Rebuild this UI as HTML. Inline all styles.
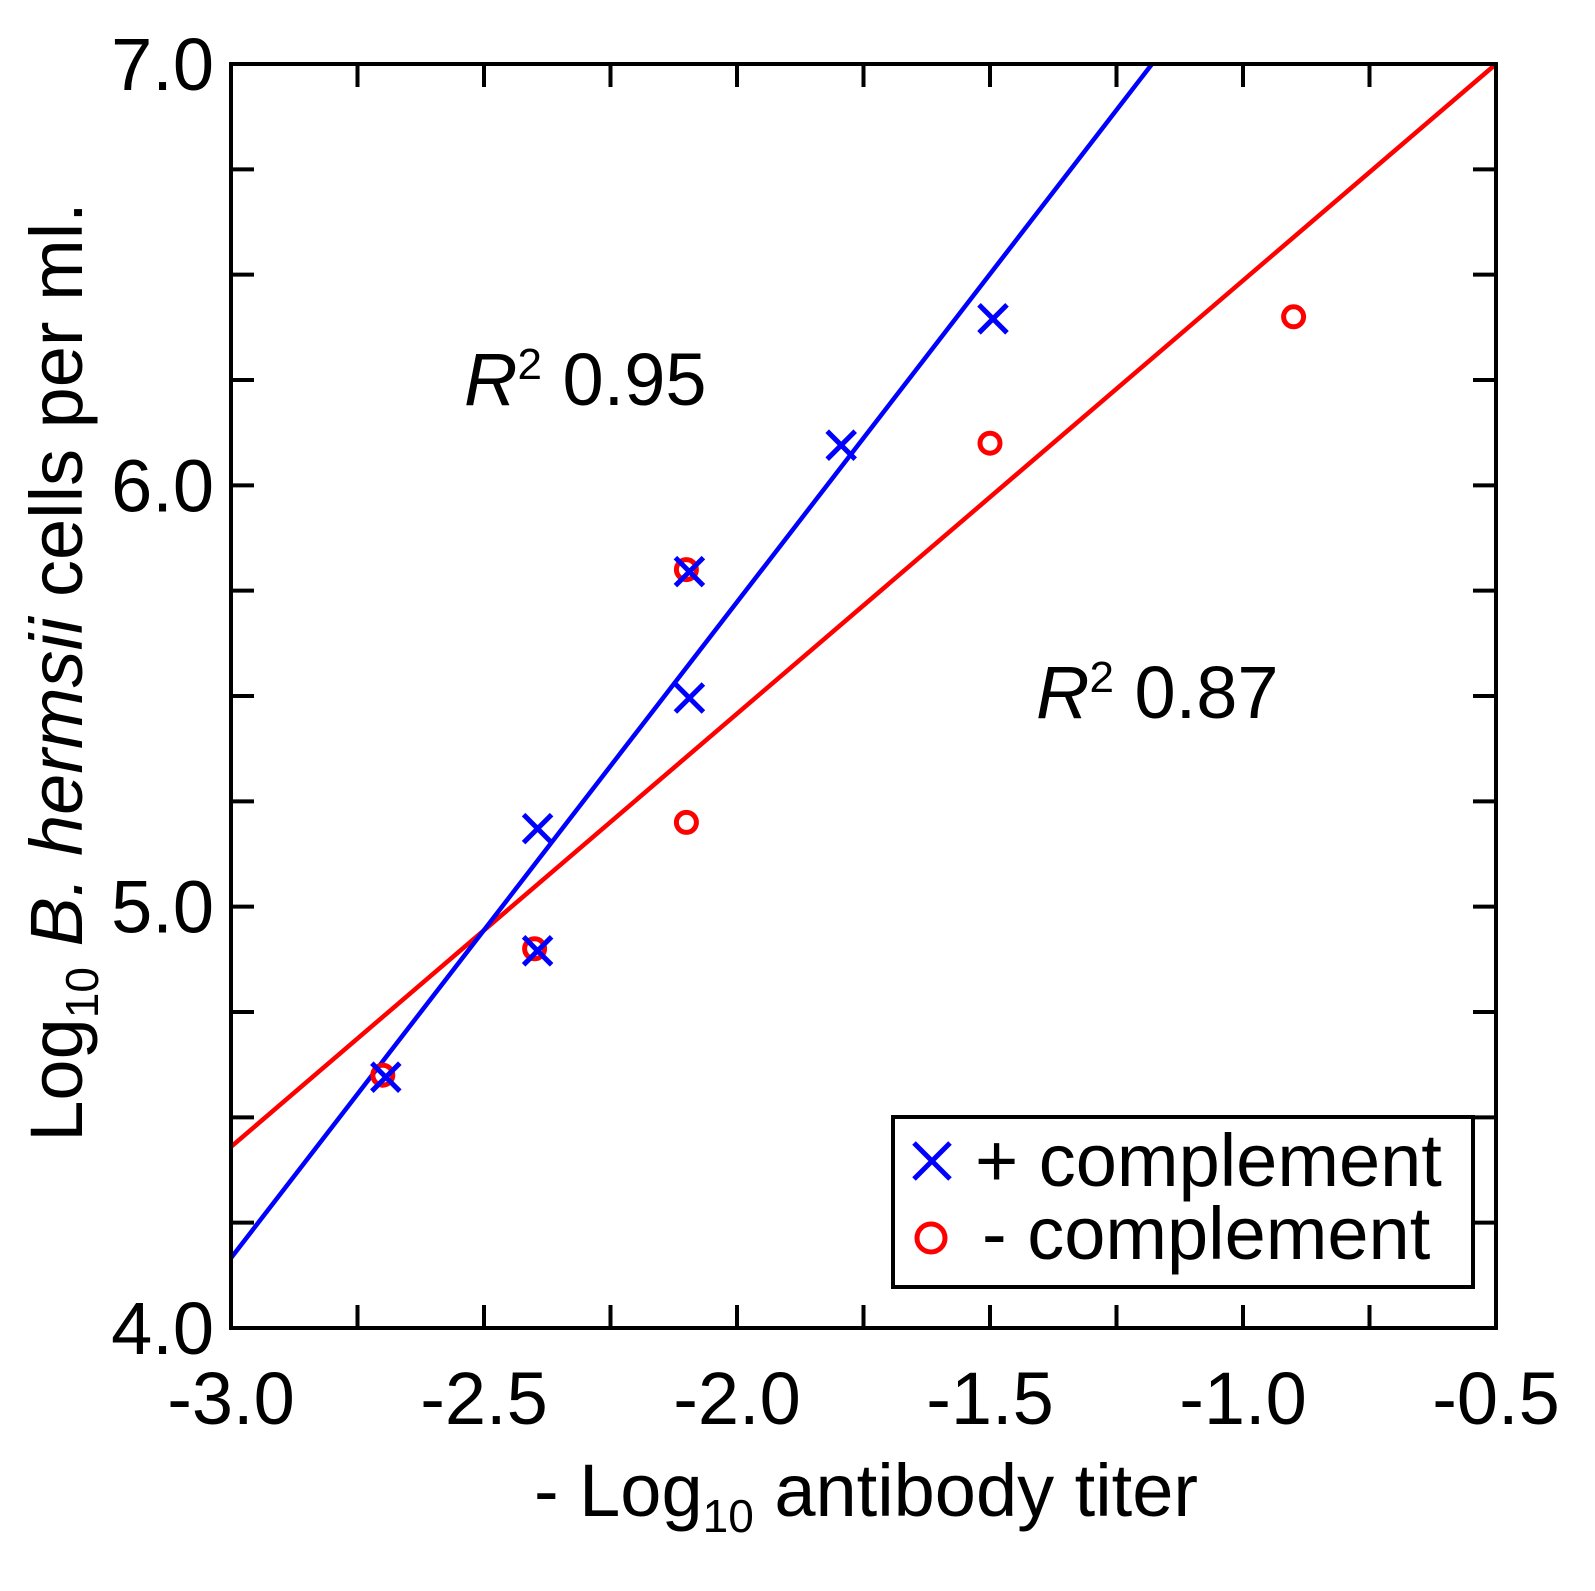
<!DOCTYPE html>
<html><head><meta charset="utf-8"><style>
html,body{margin:0;padding:0;background:#fff;}
svg text{font-family:"Liberation Sans",Arial,sans-serif;}
</style></head><body>
<svg id="chart" width="1595" height="1586" viewBox="0 0 1595 1586" xmlns="http://www.w3.org/2000/svg">
<g id="marks"></g>
<rect x="231" y="64" width="1265" height="1264" fill="none" stroke="#000" stroke-width="4"/>
<g id="ticks"></g>
<text x="866" y="1516" font-size="74" text-anchor="middle">- Log<tspan font-size="46" dy="16">10</tspan><tspan dy="-16"> antibody titer</tspan></text>
<text transform="translate(82,672) rotate(-90)" font-size="74" text-anchor="middle">Log<tspan font-size="46" dy="16">10</tspan><tspan dy="-16"> </tspan><tspan font-style="italic">B. hermsii</tspan> cells per ml.</text>
<text x="464" y="405" font-size="74"><tspan font-style="italic">R</tspan><tspan font-size="44" dy="-26">2</tspan><tspan dy="26"> 0.95</tspan></text>
<text x="1036" y="718" font-size="74"><tspan font-style="italic">R</tspan><tspan font-size="44" dy="-26">2</tspan><tspan dy="26"> 0.87</tspan></text>
<g>
<rect x="893" y="1117" width="580" height="170" fill="#fff" stroke="#000" stroke-width="4"/>
<g><path d="M914 1143 L950 1179 M950 1143 L914 1179" stroke="#00f" stroke-width="5"/><text x="975" y="1186" font-size="74">+ complement</text></g>
<g><circle cx="931" cy="1238" r="14" fill="none" stroke="#f00" stroke-width="5"/><text x="982" y="1259" font-size="74">- complement</text></g>
</g>
</svg>
<script>
const xTicks=[-3.0,-2.5,-2.0,-1.5,-1.0,-0.5];
const xTickLabels=["-3.0","-2.5","-2.0","-1.5","-1.0","-0.5"];
const yTicks=[4,5,6,7];
const yTickLabels=["4.0","5.0","6.0","7.0"];
const plusX=[-2.7,-2.4,-2.4,-2.1,-2.1,-1.8,-1.5];
const plusY=[4.6,4.9,5.19,5.5,5.8,6.1,6.4];
const minusX=[-2.7,-2.4,-2.1,-2.1,-1.5,-0.9];
const minusY=[4.6,4.9,5.8,5.2,6.1,6.4];
const blueFit=[1.557,8.837];
const redFit=[1.028,7.514];
const NS="http://www.w3.org/2000/svg";
const sx=v=>231+(v+3)*1265/2.5, sy=v=>1328-(v-4)*1264/3;
const marks=document.getElementById('marks'), ticks=document.getElementById('ticks');
function mk(tag,attrs,parent){const e=document.createElementNS(NS,tag);for(const k in attrs)e.setAttribute(k,attrs[k]);parent.appendChild(e);return e;}
function fitLine(fit,color,name){
  const x0=-3,x1=Math.min(-0.5,(7-fit[1])/fit[0]);
  const l=mk('line',{x1:sx(x0),y1:sy(fit[0]*x0+fit[1]),x2:sx(x1),y2:sy(fit[0]*x1+fit[1]),stroke:color,'stroke-width':4.5},marks);
  
  
}
fitLine(redFit,'#f00','fit-line-minus');
fitLine(blueFit,'#00f','fit-line-plus');
minusX.forEach((x,i)=>{
  const c=mk('circle',{cx:sx(x),cy:sy(minusY[i]),r:10,fill:'none',stroke:'#f00','stroke-width':5},marks);
  
  
});
plusX.forEach((x,i)=>{
  const cx=sx(x)+3,cy=sy(plusY[i])+2,d=14;
  const p=mk('path',{d:`M${cx-d} ${cy-d}L${cx+d} ${cy+d}M${cx+d} ${cy-d}L${cx-d} ${cy+d}`,stroke:'#00f','stroke-width':5},marks);
  
  
});
for(let v=-3;v<=-0.5+1e-9;v+=0.25){
  const x=sx(v);
  mk('line',{x1:x,y1:1328,x2:x,y2:1305,stroke:'#000','stroke-width':4},ticks);
  mk('line',{x1:x,y1:64,x2:x,y2:87,stroke:'#000','stroke-width':4},ticks);
}
for(let v=4;v<=7+1e-9;v+=0.25){
  const y=sy(v);
  mk('line',{x1:231,y1:y,x2:254,y2:y,stroke:'#000','stroke-width':4},ticks);
  mk('line',{x1:1496,y1:y,x2:1473,y2:y,stroke:'#000','stroke-width':4},ticks);
}
xTicks.forEach((v,i)=>{
  const t=mk('text',{x:sx(v),y:1424,'font-size':74,'text-anchor':'middle'},ticks);
  t.textContent=xTickLabels[i];
  
  
});
yTicks.forEach((v,i)=>{
  const t=mk('text',{x:214,y:sy(v)+26,'font-size':74,'text-anchor':'end'},ticks);
  t.textContent=yTickLabels[i];
  
  
});
</script>
</body></html>
